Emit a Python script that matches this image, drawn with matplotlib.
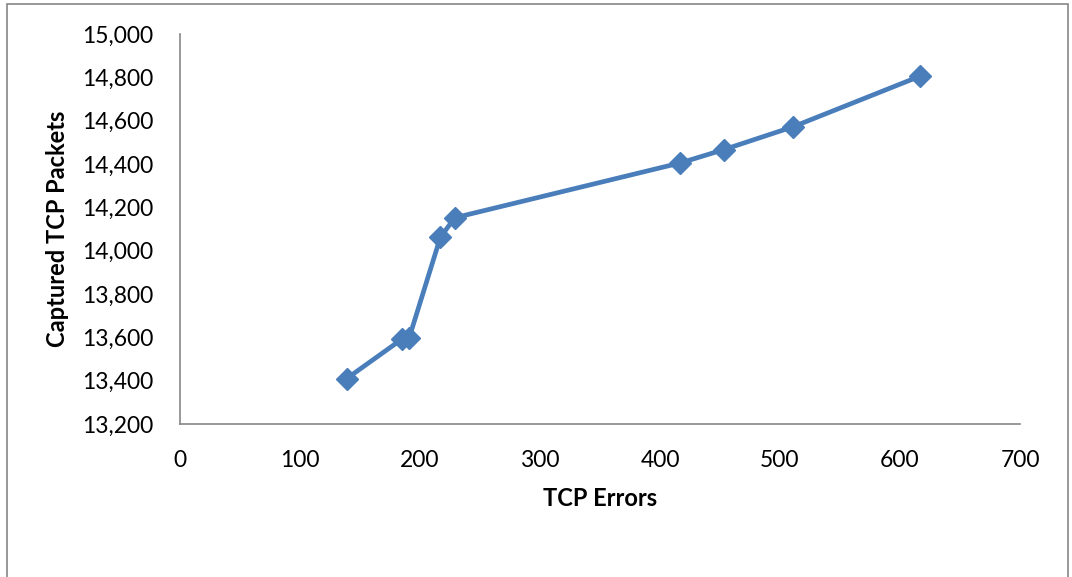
import matplotlib.pyplot as plt
from matplotlib.patches import Rectangle
from matplotlib.ticker import FuncFormatter

tcp_errors = [139, 185, 191, 217, 229, 417, 453, 511, 617]
captured_packets = [13410, 13592, 13598, 14062, 14152, 14405, 14466, 14572, 14806]

x_ticks = [0, 100, 200, 300, 400, 500, 600, 700]
y_ticks = [13200, 13400, 13600, 13800, 14000, 14200, 14400, 14600, 14800, 15000]

plt.rcParams["font.family"] = ["Lato", "DejaVu Sans"]

fig = plt.figure(figsize=(10.72, 5.77), dpi=100)
ax = fig.add_axes([180 / 1072, 1 - 424 / 577, 840 / 1072, 390 / 577])

ax.plot(tcp_errors, captured_packets, color="#4A7EBB", linewidth=3.4,
        marker="D", markersize=11, markerfacecolor="#4A7EBB", markeredgecolor="#4A7EBB")

ax.set_xlim(0, 700)
ax.set_ylim(13200, 15000)
ax.set_xticks(x_ticks)
ax.set_yticks(y_ticks)
ax.yaxis.set_major_formatter(FuncFormatter(lambda v, _: f"{v:,.0f}"))
ax.tick_params(length=0, labelsize=16.5)
ax.tick_params(axis="y", pad=19)
ax.tick_params(axis="x", pad=19)

for side in ("top", "right"):
    ax.spines[side].set_visible(False)
for side in ("left", "bottom"):
    ax.spines[side].set_color("#868686")
    ax.spines[side].set_linewidth(1.2)

ax.set_xlabel("TCP Errors", fontsize=17, fontweight="bold", va="center")
ax.set_ylabel("Captured TCP Packets", fontsize=17, fontweight="bold", va="center")
ax.xaxis.set_label_coords(0.5, (424 - 498) / 390)
ax.yaxis.set_label_coords((58 - 180) / 840, 0.5)

fig.patches.append(Rectangle((7 / 1072, -0.01), 1061 / 1072, 1 - 4 / 577 + 0.01,
                             transform=fig.transFigure, fill=False,
                             edgecolor="#868686", linewidth=1.2))

fig.savefig("out.png", dpi=100, facecolor="white")
